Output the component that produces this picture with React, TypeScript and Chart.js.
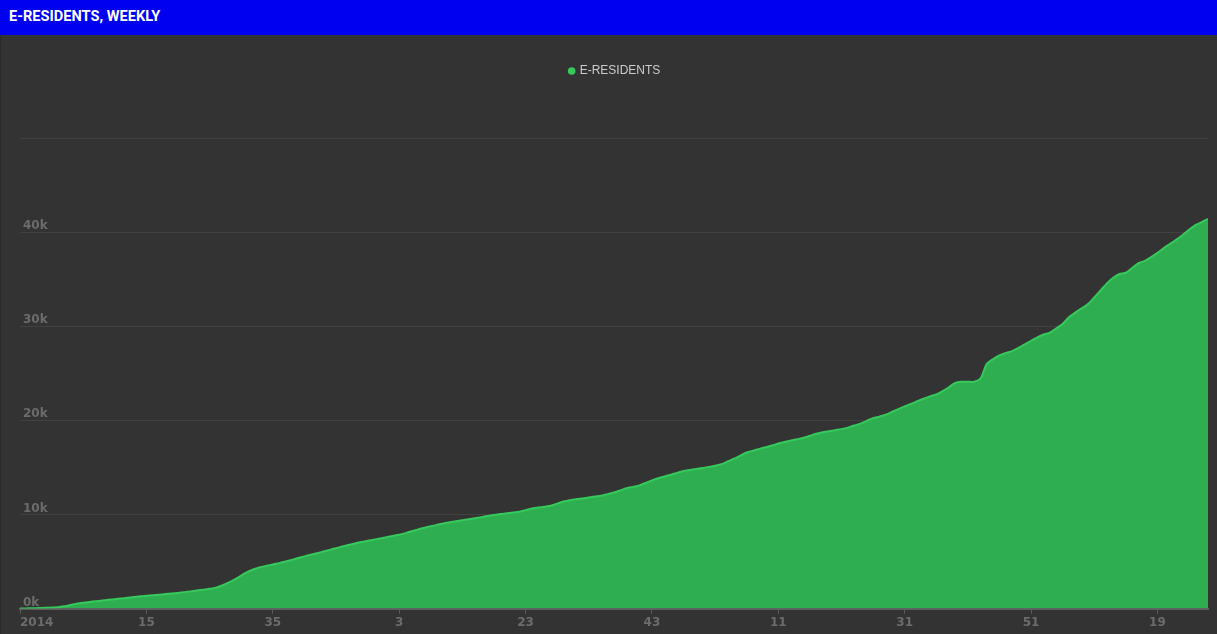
import React, { useEffect, useRef } from "react";
import { Chart, registerables } from "chart.js";

Chart.register(...registerables);

const TITLE = "E-RESIDENTS, WEEKLY";
const SERIES_NAME = "E-RESIDENTS";

// x-axis tick labels, one every 20 weeks
const TICK_LABELS = ["2014", "15", "35", "3", "23", "43", "11", "31", "51", "19"];
const TICK_EVERY = 20;

// y-axis labels
const Y_TICKS = [0, 10000, 20000, 30000, 40000, 50000];
const Y_LABELS = ["0k", "10k", "20k", "30k", "40k", ""];

// weekly cumulative e-residents
const VALUES = [
  0, 20, 40, 60, 90, 110, 140, 240, 380, 530,
  630, 710, 780, 860, 930, 1000, 1070, 1150, 1220, 1300,
  1360, 1420, 1480, 1540, 1600, 1670, 1750, 1830, 1920, 2010,
  2100, 2220, 2450, 2750, 3100, 3500, 3900, 4180, 4400, 4550,
  4690, 4830, 5000, 5180, 5370, 5550, 5720, 5890, 6060, 6240,
  6420, 6590, 6760, 6920, 7070, 7200, 7330, 7450, 7590, 7720,
  7850, 8020, 8210, 8410, 8580, 8740, 8890, 9050, 9170, 9280,
  9390, 9500, 9610, 9720, 9830, 9940, 10040, 10120, 10210, 10290,
  10450, 10630, 10730, 10820, 10920, 11150, 11370, 11520, 11630, 11710,
  11800, 11900, 12000, 12160, 12330, 12560, 12780, 12930, 13080, 13350,
  13620, 13850, 14040, 14230, 14420, 14610, 14720, 14830, 14940, 15040,
  15180, 15350, 15640, 15930, 16260, 16580, 16780, 16970, 17150, 17330,
  17540, 17700, 17860, 18000, 18150, 18360, 18570, 18740, 18850, 18960,
  19070, 19230, 19450, 19650, 19950, 20240, 20400, 20600, 20900, 21200,
  21480, 21750, 22030, 22300, 22550, 22760, 23100, 23520, 23980, 24100,
  24100, 24110, 24450, 26000, 26500, 26900, 27150, 27350, 27700, 28080,
  28450, 28820, 29120, 29330, 29780, 30250, 30950, 31450, 31900, 32350,
  33050, 33800, 34550, 35150, 35550, 35680, 36180, 36700, 36950, 37350,
  37800, 38300, 38750, 39200, 39700, 40250, 40750, 41050, 41400,
];

const LINE_COLOR = "#36c95b";
const FILL_COLOR = "#2fae51";
const AXIS_TEXT = "#6c6c6c";
const GRID = "#414141";
const AXIS_LINE = "#5e5e5e";

export default function App() {
  const canvasRef = useRef<HTMLCanvasElement | null>(null);

  useEffect(() => {
    document.body.style.margin = "0";
    document.body.style.background = "#333333";
    const canvas = canvasRef.current;
    if (!canvas) return;

    const lastIndex = VALUES.length - 1;
    const points = VALUES.map((v, i) => ({ x: i, y: v }));

    const legendSpacer = {
      id: "legendSpacer",
      beforeInit(chart: any) {
        const originalFit = chart.legend.fit;
        chart.legend.fit = function fit() {
          originalFit.bind(chart.legend)();
          this.height += 51;
        };
      },
      afterLayout(chart: any) {
        chart.legend.left += 4;
        chart.legend.right += 4;
      },
    };

    const chart = new Chart(canvas, {
      type: "line",
      data: {
        datasets: [
          {
            label: SERIES_NAME,
            data: points,
            borderColor: LINE_COLOR,
            backgroundColor: FILL_COLOR,
            pointBackgroundColor: LINE_COLOR,
            pointBorderColor: LINE_COLOR,
            borderWidth: 2,
            fill: "origin",
            pointRadius: 0,
            pointHoverRadius: 0,
            tension: 0.3,
          },
        ],
      },
      options: {
        animation: false,
        responsive: true,
        maintainAspectRatio: false,
        layout: { padding: { top: 20, left: 13, right: 9, bottom: 2 } },
        plugins: {
          legend: {
            display: true,
            position: "top",
            labels: {
              usePointStyle: true,
              pointStyle: "circle",
              boxWidth: 4,
              boxHeight: 4,
              color: "#cccccc",
              padding: 10,
              font: { family: "'Liberation Sans', Arial, sans-serif", size: 12 },
            },
          },
          tooltip: { enabled: false },
        },
        scales: {
          x: {
            type: "linear",
            min: 0,
            max: lastIndex,
            afterBuildTicks(scale: any) {
              const ticks = TICK_LABELS.map((_, i) => ({ value: i * TICK_EVERY }));
              ticks.push({ value: lastIndex });
              scale.ticks = ticks;
            },
            ticks: {
              autoSkip: false,
              maxRotation: 0,
              minRotation: 0,
              align: "inner",
              padding: 2,
              color: AXIS_TEXT,
              font: { family: "'DejaVu Sans', sans-serif", size: 12, weight: "bold" },
              callback(value: any) {
                const v = Number(value);
                if (v % TICK_EVERY !== 0) return "";
                return TICK_LABELS[v / TICK_EVERY] ?? "";
              },
            },
            grid: {
              drawOnChartArea: false,
              drawTicks: true,
              tickLength: 5,
              tickColor: (ctx: any) =>
                ctx.tick && ctx.tick.value % TICK_EVERY === 0 ? AXIS_LINE : "rgba(0,0,0,0)",
            },
            border: { display: true, color: AXIS_LINE, width: 2 },
          },
          y: {
            type: "linear",
            min: 0,
            max: 50000,
            afterBuildTicks(scale: any) {
              scale.ticks = Y_TICKS.map((v) => ({ value: v }));
            },
            ticks: {
              mirror: true,
              padding: 3,
              labelOffset: -6,
              color: AXIS_TEXT,
              font: { family: "'DejaVu Sans', sans-serif", size: 12, weight: "bold" },
              callback(value: any) {
                const idx = Y_TICKS.indexOf(Number(value));
                return idx >= 0 ? Y_LABELS[idx] : "";
              },
            },
            grid: {
              color: (ctx: any) => (ctx.tick && ctx.tick.value === 0 ? "rgba(0,0,0,0)" : GRID),
              drawTicks: false,
            },
            border: { display: false },
          },
        },
      },
      plugins: [legendSpacer],
    } as any);

    return () => chart.destroy();
  }, []);

  return (
    <div style={{ width: 1217, height: 634, background: "#333333", position: "relative", overflow: "hidden" }}>
      <div
        style={{
          height: 35,
          background: "#0000f0",
          color: "#ffffff",
          fontFamily: "Roboto, 'Noto Sans', sans-serif",
          fontWeight: 700,
          fontSize: 14.6,
          lineHeight: "33px",
          paddingLeft: 9,
          boxSizing: "border-box",
        }}
      >
        {TITLE}
      </div>
      <div
        style={{
          position: "absolute",
          top: 35,
          left: 0,
          width: 1217,
          height: 599,
          borderLeft: "1px solid #2a2a2a",
          boxSizing: "border-box",
        }}
      >
        <div style={{ position: "absolute", top: 0, left: 0, width: 1216, height: 599 }}>
          <canvas ref={canvasRef} />
        </div>
      </div>
    </div>
  );
}
